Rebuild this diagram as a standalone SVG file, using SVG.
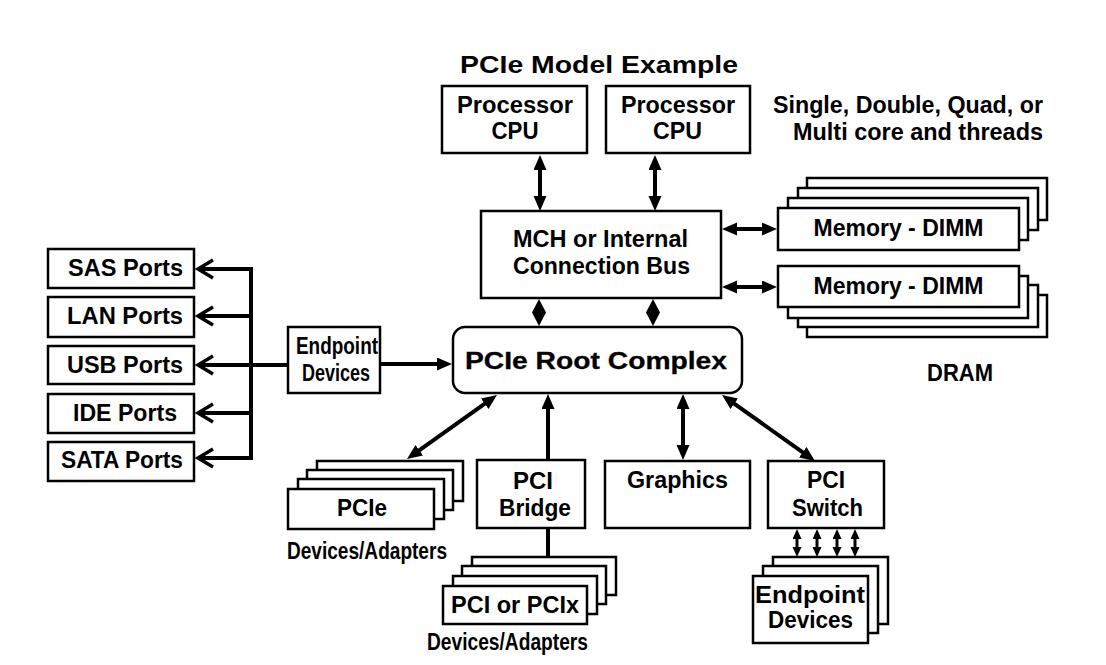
<svg xmlns="http://www.w3.org/2000/svg" width="1106" height="665" viewBox="0 0 1106 665">
<style>
.b{fill:#fff;stroke:#000;stroke-width:2.5}
.t{font-family:"Liberation Sans",Arial,sans-serif;font-weight:bold;font-size:23px;text-anchor:middle;fill:#000}
.c{fill:none;stroke:#000;stroke-width:4}
.s{fill:none;stroke:#000;stroke-width:3}
.ch{fill:none;stroke:#000;stroke-width:3.5;stroke-linejoin:miter}
</style>
<defs>
<marker id="ah" markerUnits="userSpaceOnUse" markerWidth="16" markerHeight="14" refX="4" refY="6.5" orient="auto-start-reverse"><path d="M0,0 L15,6.5 L0,13 Z" fill="#000"/></marker>
<marker id="sh" markerUnits="userSpaceOnUse" markerWidth="11" markerHeight="10" refX="3" refY="4.5" orient="auto-start-reverse"><path d="M0,0 L10,4.5 L0,9 Z" fill="#000"/></marker>
</defs>
<rect width="1106" height="665" fill="#fff"/>

<text class="t" x="599" y="73" textLength="278" lengthAdjust="spacingAndGlyphs">PCIe Model Example</text>
<g id="note">
<text class="t" x="908" y="113" textLength="270" lengthAdjust="spacingAndGlyphs">Single, Double, Quad, or</text>
<text class="t" x="918" y="140" textLength="250" lengthAdjust="spacingAndGlyphs">Multi core and threads</text>
</g>

<g id="cpu1">
<rect class="b" x="442" y="86" width="145" height="67"/>
<text class="t" x="515" y="113" textLength="116" lengthAdjust="spacingAndGlyphs">Processor</text>
<text class="t" x="515" y="139" textLength="47" lengthAdjust="spacingAndGlyphs">CPU</text>
</g>
<g id="cpu2">
<rect class="b" x="606" y="86" width="144" height="67"/>
<text class="t" x="678" y="113" textLength="114" lengthAdjust="spacingAndGlyphs">Processor</text>
<text class="t" x="677.5" y="139" textLength="49" lengthAdjust="spacingAndGlyphs">CPU</text>
</g>

<g id="mch">
<rect class="b" x="481" y="211" width="240" height="87"/>
<text class="t" x="600.5" y="247" textLength="175" lengthAdjust="spacingAndGlyphs">MCH or Internal</text>
<text class="t" x="601.5" y="274" textLength="177" lengthAdjust="spacingAndGlyphs">Connection Bus</text>
</g>

<g id="dimm1">
<rect class="b" x="807" y="178" width="240" height="42"/>
<rect class="b" x="798" y="188" width="240" height="42"/>
<rect class="b" x="788" y="198" width="240" height="42"/>
<rect class="b" x="778" y="208" width="241" height="42"/>
<text class="t" x="898.5" y="236" textLength="170" lengthAdjust="spacingAndGlyphs">Memory - DIMM</text>
</g>
<g id="dimm2">
<rect class="b" x="807" y="295" width="240" height="42"/>
<rect class="b" x="798" y="285" width="240" height="42"/>
<rect class="b" x="788" y="276" width="240" height="42"/>
<rect class="b" x="778" y="266" width="241" height="41"/>
<text class="t" x="898.5" y="294" textLength="170" lengthAdjust="spacingAndGlyphs">Memory - DIMM</text>
</g>
<text id="dram" class="t" x="960" y="381" textLength="66" lengthAdjust="spacingAndGlyphs">DRAM</text>

<g id="root">
<rect class="b" x="453" y="327" width="289" height="66" rx="12" stroke-width="3"/>
<text class="t" x="596" y="369" font-size="27" font-weight="normal" stroke="#000" stroke-width="0.3" textLength="262" lengthAdjust="spacingAndGlyphs">PCIe Root Complex</text>
</g>

<g id="endpoint1">
<rect class="b" x="288" y="327" width="92" height="66"/>
<text class="t" x="337" y="354" textLength="82" lengthAdjust="spacingAndGlyphs">Endpoint</text>
<text class="t" x="336" y="381" textLength="68" lengthAdjust="spacingAndGlyphs">Devices</text>
</g>

<g id="sas"><rect class="b" x="48" y="249" width="146" height="39"/><text class="t" x="125.5" y="276" textLength="115" lengthAdjust="spacingAndGlyphs">SAS Ports</text></g>
<g id="lan"><rect class="b" x="48" y="297" width="146" height="40"/><text class="t" x="125" y="324" textLength="116" lengthAdjust="spacingAndGlyphs">LAN Ports</text></g>
<g id="usb"><rect class="b" x="48" y="346" width="146" height="38"/><text class="t" x="125" y="373" textLength="116" lengthAdjust="spacingAndGlyphs">USB Ports</text></g>
<g id="ide"><rect class="b" x="48" y="394" width="146" height="39"/><text class="t" x="125" y="421" textLength="104" lengthAdjust="spacingAndGlyphs">IDE Ports</text></g>
<g id="sata"><rect class="b" x="48" y="442" width="146" height="39"/><text class="t" x="122" y="468" textLength="122" lengthAdjust="spacingAndGlyphs">SATA Ports</text></g>

<g id="pcie">
<rect class="b" x="317" y="461" width="146" height="40"/>
<rect class="b" x="307" y="470" width="146" height="40"/>
<rect class="b" x="298" y="479" width="146" height="40"/>
<rect class="b" x="288" y="489" width="146" height="40"/>
<text class="t" x="362" y="516" textLength="50" lengthAdjust="spacingAndGlyphs">PCIe</text>
<text class="t" x="367" y="559" textLength="160" lengthAdjust="spacingAndGlyphs">Devices/Adapters</text>
</g>

<g id="bridge">
<rect class="b" x="477" y="460" width="108" height="68"/>
<text class="t" x="533" y="489" textLength="40" lengthAdjust="spacingAndGlyphs">PCI</text>
<text class="t" x="535" y="516" textLength="72" lengthAdjust="spacingAndGlyphs">Bridge</text>
</g>

<g id="pcix">
<rect class="b" x="472" y="557" width="144" height="38"/>
<rect class="b" x="462" y="566" width="144" height="38"/>
<rect class="b" x="453" y="576" width="144" height="38"/>
<rect class="b" x="443" y="586" width="144" height="38"/>
<text class="t" x="515" y="613" textLength="128" lengthAdjust="spacingAndGlyphs">PCI or PCIx</text>
<text class="t" x="507.5" y="650" textLength="161" lengthAdjust="spacingAndGlyphs">Devices/Adapters</text>
</g>

<g id="graphics">
<rect class="b" x="605" y="461" width="145" height="67"/>
<text class="t" x="677.5" y="488" textLength="101" lengthAdjust="spacingAndGlyphs">Graphics</text>
</g>

<g id="switch">
<rect class="b" x="768" y="461" width="116" height="67"/>
<text class="t" x="826" y="488" textLength="38" lengthAdjust="spacingAndGlyphs">PCI</text>
<text class="t" x="827.5" y="516" textLength="71" lengthAdjust="spacingAndGlyphs">Switch</text>
</g>

<g id="endpoint2">
<rect class="b" x="773" y="557" width="115" height="67"/>
<rect class="b" x="763" y="566" width="115" height="67"/>
<rect class="b" x="753" y="576" width="115" height="67"/>
<text class="t" x="810" y="603" textLength="110" lengthAdjust="spacingAndGlyphs">Endpoint</text>
<text class="t" x="810.5" y="628" textLength="85" lengthAdjust="spacingAndGlyphs">Devices</text>
</g>

<g id="connectors">
<line class="c" x1="540" y1="166" x2="540" y2="200" marker-start="url(#ah)" marker-end="url(#ah)"/>
<line class="c" x1="655" y1="166" x2="655" y2="200" marker-start="url(#ah)" marker-end="url(#ah)"/>
<line class="c" x1="733" y1="229" x2="766" y2="229" marker-start="url(#ah)" marker-end="url(#ah)"/>
<line class="c" x1="733" y1="287" x2="766" y2="287" marker-start="url(#ah)" marker-end="url(#ah)"/>
<polygon points="539,299 546,312.5 539,326 532,312.5" fill="#000"/>
<polygon points="653,299 660,312.5 653,326 646,312.5" fill="#000"/>
<line class="c" x1="380" y1="364" x2="441" y2="364" marker-end="url(#ah)"/>
<line class="c" x1="288" y1="365" x2="251" y2="365"/>
<line class="c" x1="251" y1="267" x2="251" y2="460"/>
<line class="c" x1="253" y1="269" x2="199" y2="269"/>
<line class="c" x1="253" y1="316" x2="199" y2="316"/>
<line class="c" x1="253" y1="365" x2="199" y2="365"/>
<line class="c" x1="253" y1="413" x2="199" y2="413"/>
<line class="c" x1="253" y1="458" x2="199" y2="458"/>
<polyline class="ch" points="213,260 198,269 213,278"/>
<polyline class="ch" points="213,307 198,316 213,325"/>
<polyline class="ch" points="213,356 198,365 213,374"/>
<polyline class="ch" points="213,404 198,413 213,422"/>
<polyline class="ch" points="213,449 198,458 213,467"/>
<line class="c" x1="416" y1="452.6" x2="488" y2="401.4" marker-start="url(#ah)" marker-end="url(#ah)"/>
<line class="c" x1="548" y1="460" x2="548" y2="405" marker-end="url(#ah)"/>
<line class="c" x1="548" y1="528" x2="548" y2="557"/>
<line class="c" x1="683" y1="405" x2="683" y2="449" marker-start="url(#ah)" marker-end="url(#ah)"/>
<line class="c" x1="731" y1="401.4" x2="806" y2="454.6" marker-start="url(#ah)" marker-end="url(#ah)"/>
<line class="s" x1="797" y1="536" x2="797" y2="550" marker-start="url(#sh)" marker-end="url(#sh)"/>
<line class="s" x1="817" y1="536" x2="817" y2="550" marker-start="url(#sh)" marker-end="url(#sh)"/>
<line class="s" x1="837" y1="536" x2="837" y2="550" marker-start="url(#sh)" marker-end="url(#sh)"/>
<line class="s" x1="855" y1="536" x2="855" y2="550" marker-start="url(#sh)" marker-end="url(#sh)"/>
</g>
</svg>
